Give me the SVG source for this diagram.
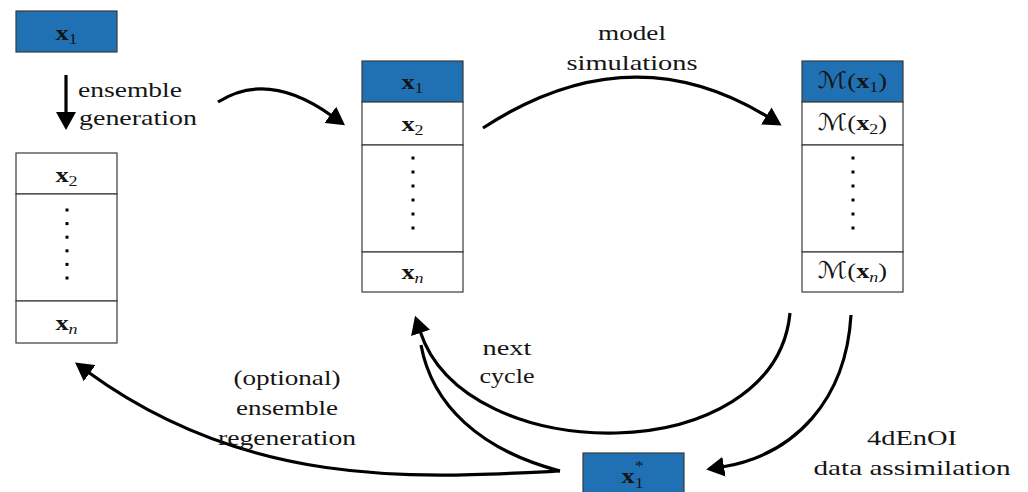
<svg xmlns="http://www.w3.org/2000/svg" width="1028" height="492" viewBox="0 0 1028 492">
  <style>
    .cell { fill: #ffffff; stroke: #3a3a3a; stroke-width: 1.2; }
    .hot { fill: #1f71b3; stroke: #3a3a3a; stroke-width: 1.2; }
    .dot { fill: #000000; }
    .edge { fill: none; stroke: #000000; stroke-width: 3.2; marker-end: url(#ah); }
    .edge-plain { fill: none; stroke: #000000; stroke-width: 3.2; }
    .lbl { font-family: "Liberation Serif", "Times New Roman", serif; font-size: 22px; fill: #151515; }
    .m { font-family: "Liberation Serif", "Times New Roman", serif; font-size: 22px; fill: #151515; }
    .b { font-weight: bold; }
    .sub { font-size: 15px; }
    .it { font-style: italic; }
    .cal { font-family: "DejaVu Serif", "DejaVu Sans", serif; font-style: normal; font-size: 23px; }
  </style>
  <defs>
    <marker id="ah" viewBox="0 0 18 20" refX="2" refY="10" markerWidth="18" markerHeight="20" markerUnits="userSpaceOnUse" orient="auto">
      <path d="M0,0 L18,10 L0,20 Z" fill="#000000"/>
    </marker>
  </defs>

  <rect width="1028" height="492" fill="#ffffff"/>

  <!-- single seed state -->
  <g id="node-seed">
    <rect class="hot" x="16" y="11" width="101" height="41"/>
    <text class="m" transform="translate(66.5,40) scale(1.2,1)" text-anchor="middle"><tspan class="b">x</tspan><tspan class="sub" dy="4">1</tspan></text>
  </g>

  <!-- generated members x2..xn -->
  <g id="node-generated">
    <rect class="cell" x="16" y="153" width="101" height="41"/>
    <rect class="cell" x="16" y="194" width="101" height="107"/>
    <rect class="cell" x="16" y="301" width="101" height="42"/>
    <text class="m" transform="translate(66.5,182) scale(1.2,1)" text-anchor="middle"><tspan class="b">x</tspan><tspan class="sub" dy="4">2</tspan></text>
    <g class="dot">
      <rect x="65.5" y="208.5" width="3" height="3"/>
      <rect x="65.5" y="222.1" width="3" height="3"/>
      <rect x="65.5" y="235.7" width="3" height="3"/>
      <rect x="65.5" y="249.3" width="3" height="3"/>
      <rect x="65.5" y="262.9" width="3" height="3"/>
      <rect x="65.5" y="276.5" width="3" height="3"/>
    </g>
    <text class="m" transform="translate(66.5,330) scale(1.2,1)" text-anchor="middle"><tspan class="b">x</tspan><tspan class="sub it" dy="4">n</tspan></text>
  </g>

  <!-- full ensemble -->
  <g id="node-ensemble">
    <rect class="hot" x="362" y="61" width="101" height="41"/>
    <rect class="cell" x="362" y="102" width="101" height="43"/>
    <rect class="cell" x="362" y="145" width="101" height="107"/>
    <rect class="cell" x="362" y="252" width="101" height="40"/>
    <text class="m" transform="translate(412.5,89) scale(1.2,1)" text-anchor="middle"><tspan class="b">x</tspan><tspan class="sub" dy="4">1</tspan></text>
    <text class="m" transform="translate(412.5,131) scale(1.2,1)" text-anchor="middle"><tspan class="b">x</tspan><tspan class="sub" dy="4">2</tspan></text>
    <g class="dot">
      <rect x="411.5" y="156.5" width="3" height="3"/>
      <rect x="411.5" y="170.5" width="3" height="3"/>
      <rect x="411.5" y="184.5" width="3" height="3"/>
      <rect x="411.5" y="198.5" width="3" height="3"/>
      <rect x="411.5" y="212.5" width="3" height="3"/>
      <rect x="411.5" y="226.5" width="3" height="3"/>
    </g>
    <text class="m" transform="translate(412.5,279) scale(1.2,1)" text-anchor="middle"><tspan class="b">x</tspan><tspan class="sub it" dy="4">n</tspan></text>
  </g>

  <!-- model outputs -->
  <g id="node-forecast">
    <rect class="hot" x="802" y="61" width="101" height="41"/>
    <rect class="cell" x="802" y="102" width="101" height="43"/>
    <rect class="cell" x="802" y="145" width="101" height="107"/>
    <rect class="cell" x="802" y="252" width="101" height="40"/>
    <text class="m" transform="translate(852.5,88) scale(1.2,1)" text-anchor="middle"><tspan class="cal">ℳ</tspan>(<tspan class="b">x</tspan><tspan class="sub" dy="4">1</tspan><tspan dy="-4">)</tspan></text>
    <text class="m" transform="translate(852.5,130) scale(1.2,1)" text-anchor="middle"><tspan class="cal">ℳ</tspan>(<tspan class="b">x</tspan><tspan class="sub" dy="4">2</tspan><tspan dy="-4">)</tspan></text>
    <g class="dot">
      <rect x="851.5" y="156.5" width="3" height="3"/>
      <rect x="851.5" y="170.5" width="3" height="3"/>
      <rect x="851.5" y="184.5" width="3" height="3"/>
      <rect x="851.5" y="198.5" width="3" height="3"/>
      <rect x="851.5" y="212.5" width="3" height="3"/>
      <rect x="851.5" y="226.5" width="3" height="3"/>
    </g>
    <text class="m" transform="translate(852.5,278) scale(1.2,1)" text-anchor="middle"><tspan class="cal">ℳ</tspan>(<tspan class="b">x</tspan><tspan class="sub it" dy="4">n</tspan><tspan dy="-4">)</tspan></text>
  </g>

  <!-- analysis state -->
  <g id="node-analysis">
    <rect class="hot" x="583" y="453" width="101" height="42"/>
    <text class="m" transform="translate(633,483) scale(1.2,1)" x="-9.5"><tspan class="b">x</tspan><tspan class="sub" dy="5">1</tspan><tspan class="sub" x="1.5" dy="-17">*</tspan></text>
  </g>

  <!-- connectors -->
  <g id="connectors">
    <path class="edge" d="M66,75 L66,114"/>
    <path class="edge" d="M218,102 Q268,70 332,116"/>
    <path class="edge" d="M483,128 Q630,32 768,117"/>
    <path class="edge" d="M790,313 C775,470 465,470 420,331"/>
    <path class="edge" d="M851,315 C846,400 795,455 722,467"/>
    <path class="edge" d="M560,471 C420,478 250,490 88,372"/>
    <path class="edge-plain" d="M560,471 C480,450 432,405 421,345"/>
  </g>

  <!-- edge labels -->
  <g id="labels">
    <text class="lbl" x="78" y="97" textLength="104" lengthAdjust="spacingAndGlyphs">ensemble</text>
    <text class="lbl" x="79" y="125" textLength="118" lengthAdjust="spacingAndGlyphs">generation</text>
    <text class="lbl" x="632" y="40" text-anchor="middle" textLength="68" lengthAdjust="spacingAndGlyphs">model</text>
    <text class="lbl" x="632" y="70" text-anchor="middle" textLength="131" lengthAdjust="spacingAndGlyphs">simulations</text>
    <text class="lbl" x="507" y="355" text-anchor="middle" textLength="49" lengthAdjust="spacingAndGlyphs">next</text>
    <text class="lbl" x="507" y="383" text-anchor="middle" textLength="55" lengthAdjust="spacingAndGlyphs">cycle</text>
    <text class="lbl" x="287" y="385" text-anchor="middle" textLength="107" lengthAdjust="spacingAndGlyphs">(optional)</text>
    <text class="lbl" x="287" y="415" text-anchor="middle" textLength="102" lengthAdjust="spacingAndGlyphs">ensemble</text>
    <text class="lbl" x="287" y="445" text-anchor="middle" textLength="138" lengthAdjust="spacingAndGlyphs">regeneration</text>
    <text class="lbl" x="912" y="445" text-anchor="middle" textLength="90" lengthAdjust="spacingAndGlyphs">4dEnOI</text>
    <text class="lbl" x="912" y="475" text-anchor="middle" textLength="197" lengthAdjust="spacingAndGlyphs">data assimilation</text>
  </g>
</svg>
